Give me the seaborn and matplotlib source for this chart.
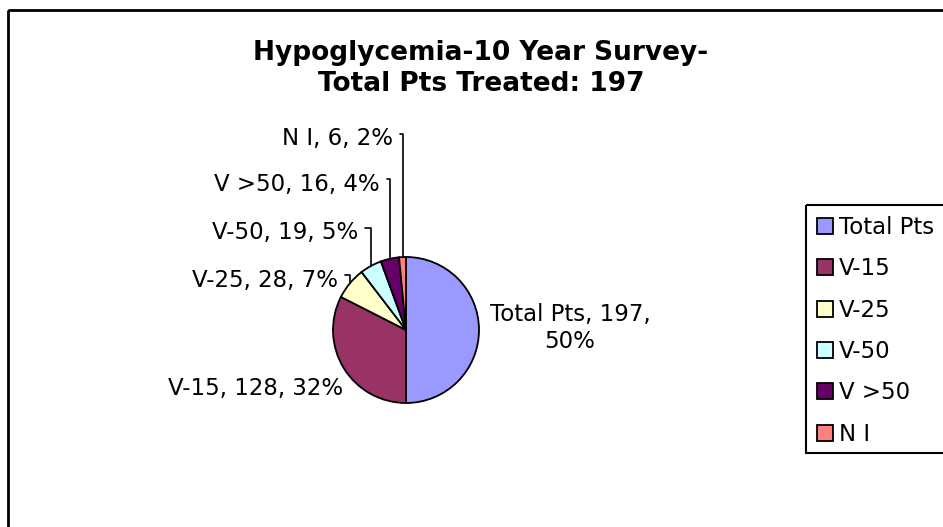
import matplotlib
matplotlib.use("Agg")
import matplotlib.pyplot as plt
from matplotlib.patches import Rectangle
import numpy as np
import seaborn as sns

# data
categories = ["Total Pts", "V-15", "V-25", "V-50", "V >50", "N I"]
counts = [197, 128, 28, 19, 16, 6]
colors = ["#9999FF", "#993366", "#FFFFCC", "#CCFFFF", "#660066", "#FF8080"]
title_lines = ["Hypoglycemia-10 Year Survey-", "Total Pts Treated: 197"]

sns.set_style("white")
plt.rcParams["font.family"] = ["DejaVu Sans"]
plt.rcParams["text.color"] = "black"

W, H = 943, 527
fig = plt.figure(figsize=(W / 100, H / 100), dpi=100)
ax = fig.add_axes([0, 0, 1, 1])

# axes work in image pixels, y pointing down
cx, cy, r = 406, 330, 73
wedges, _ = ax.pie(counts, colors=colors, startangle=-90, counterclock=True,
                   center=(cx, cy), radius=r, frame=True,
                   wedgeprops=dict(edgecolor="black", linewidth=1.3))
ax.set_xlim(0, W)
ax.set_ylim(H, 0)
ax.set_aspect("equal")
ax.axis("off")

total = sum(counts)
pcts = [round(100 * c / total) for c in counts]
fs = 16.5

# label anchor: (x, y, horizontal alignment, leader line?)
label_pos = {
    "Total Pts": (570, 328, "center", False),
    "V-15": (343, 388, "right", False),
    "V-25": (338, 280, "right", True),
    "V-50": (358, 233, "right", True),
    "V >50": (380, 184, "right", True),
    "N I": (393, 139, "right", True),
}

for w, cat, n, p in zip(wedges, categories, counts, pcts):
    x, y, ha, leader = label_pos[cat]
    if cat == "Total Pts":
        txt = f"{cat}, {n},\n{p}%"
    else:
        txt = f"{cat}, {n}, {p}%"
    theta = np.deg2rad((w.theta1 + w.theta2) / 2)
    edge = (cx + r * np.cos(theta), cy + r * np.sin(theta))
    if leader:
        ax.annotate(txt, xy=edge, xytext=(x, y), ha=ha, va="center", fontsize=fs,
                    arrowprops=dict(arrowstyle="-", color="black", lw=1.2,
                                    connectionstyle="angle,angleA=0,angleB=90,rad=0",
                                    relpos=(1, 0.7), shrinkA=3, shrinkB=0))
    else:
        ax.text(x, y, txt, ha=ha, va="center", fontsize=fs, multialignment="center",
                linespacing=1.25)

# title
ax.text(481, 53, title_lines[0], ha="center", va="center", fontsize=19, fontweight="bold")
ax.text(481, 84, title_lines[1], ha="center", va="center", fontsize=19, fontweight="bold")

# legend with its own box running off the right edge
ax.legend(wedges, categories, loc="upper left", bbox_to_anchor=(817, 216),
          bbox_transform=ax.transData, frameon=False, fontsize=fs,
          handlelength=0.7, handleheight=0.7, labelspacing=0.8,
          handletextpad=0.25, borderaxespad=0, borderpad=0)
ax.add_patch(Rectangle((806, 205), 200, 248, fill=False, edgecolor="black", lw=1.5))

# chart area border
ax.add_patch(Rectangle((8, 10), 1000, 600, fill=False, edgecolor="black", lw=2))

fig.savefig("out.png", dpi=100)
